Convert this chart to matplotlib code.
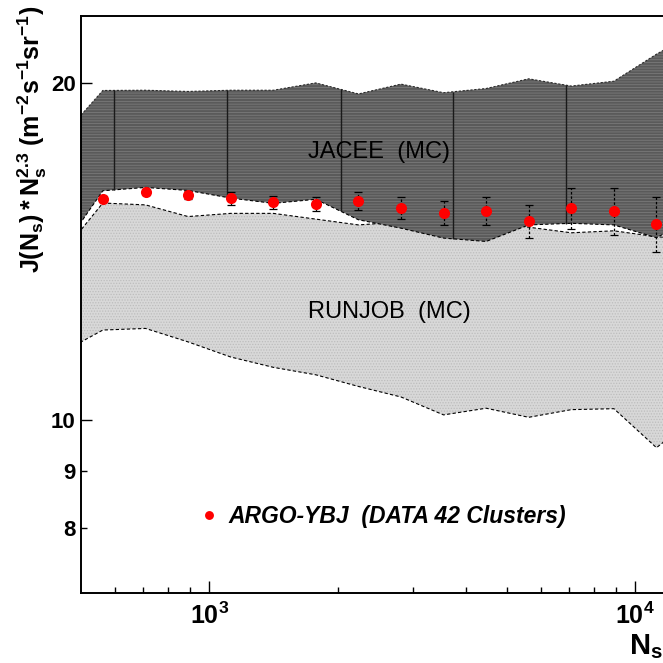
import numpy as np
import matplotlib
matplotlib.use('Agg')
import matplotlib.pyplot as plt
from matplotlib.ticker import FixedLocator, NullFormatter, FixedFormatter

plt.rcParams['font.family'] = ['Liberation Sans', 'DejaVu Sans']
plt.rcParams['mathtext.fontset'] = 'custom'
plt.rcParams['mathtext.rm'] = 'Liberation Sans'
plt.rcParams['mathtext.bf'] = 'Liberation Sans:bold'
plt.rcParams['mathtext.it'] = 'Liberation Sans:italic'
plt.rcParams['mathtext.sf'] = 'Liberation Sans'
plt.rcParams['hatch.linewidth'] = 0.6

# ARGO-YBJ data points
ns_data = [562, 708, 891, 1122, 1413, 1778, 2239, 2818, 3548, 4467, 5623, 7079, 8913, 11220]
flux_data = [15.77, 16.00, 15.89, 15.78, 15.65, 15.60, 15.69, 15.46, 15.31, 15.39, 15.05, 15.47, 15.38, 14.97]
flux_err = [0.10, 0.10, 0.13, 0.20, 0.21, 0.24, 0.29, 0.35, 0.38, 0.45, 0.52, 0.65, 0.74, 0.85]

# MC bands
ns_band = [447, 562, 708, 891, 1122, 1413, 1778, 2239, 2818, 3548, 4467, 5623, 7079, 8913, 11220, 14125]
jacee_hi = [17.86, 19.71, 19.72, 19.67, 19.72, 19.72, 20.02, 19.57, 19.97, 19.62, 19.79, 20.19, 19.89, 20.09, 21.24, 22.32]
jacee_lo = [14.14, 16.03, 16.14, 16.04, 15.79, 15.62, 15.75, 15.10, 14.84, 14.54, 14.44, 14.94, 14.99, 14.94, 14.55, 15.25]
runjob_hi = [14.04, 15.63, 15.57, 15.20, 15.30, 15.30, 15.12, 14.94, 15.03, 15.12, 15.04, 14.87, 14.70, 14.76, 14.58, 14.50]
runjob_lo = [11.47, 12.03, 12.07, 11.74, 11.38, 11.14, 10.97, 10.71, 10.48, 10.10, 10.24, 10.05, 10.21, 10.23, 9.44, 10.12]
jacee_bins = [598, 1101, 2032, 3741, 6887]

x_major = [1e3, 1e4]
x_major_labels = [r'$\mathbf{10^{3}}$', r'$\mathbf{10^{4}}$']
x_minor = [600, 700, 800, 900, 2000, 3000, 4000, 5000, 6000, 7000, 8000, 9000]
y_major = [10, 20]
y_minor = [8, 9]

fig = plt.figure(figsize=(6.63, 6.63), dpi=100)
ax = fig.add_axes([0.1225, 0.1059, 0.8864, 0.8706])
ax.set_xscale('log')
ax.set_yscale('log')

# RUNJOB band
ax.fill_between(ns_band, runjob_lo, runjob_hi, facecolor='#d8d8d8', edgecolor='#bdbdbd',
                hatch='......', linewidth=0, zorder=1)
ax.plot(ns_band, runjob_hi, ls=(0, (3, 2)), color='k', lw=0.8, zorder=1.5)
ax.plot(ns_band, runjob_lo, ls=(0, (3, 2)), color='k', lw=0.8, zorder=1.5)

# JACEE band
ax.fill_between(ns_band, jacee_lo, jacee_hi, facecolor='#5a5a5a', edgecolor='#7a7a7a',
                hatch='------', linewidth=0, zorder=2)
ax.plot(ns_band, jacee_hi, ls=(0, (2, 1.5)), color='#2a2a2a', lw=0.8, zorder=2.5)
ax.plot(ns_band, jacee_lo, ls=(0, (3, 2)), color='k', lw=0.8, zorder=2.5)
lb = np.log10(ns_band)
for bx in jacee_bins:
    ylo = 10 ** np.interp(np.log10(bx), lb, np.log10(jacee_lo))
    yhi = 10 ** np.interp(np.log10(bx), lb, np.log10(jacee_hi))
    ax.vlines(bx, ylo, yhi, color='#1a1a1a', lw=1.0, zorder=2.6)

# data
eb = ax.errorbar(ns_data, flux_data, yerr=flux_err, fmt='none', ecolor='k',
                 elinewidth=0.9, capsize=3, capthick=0.9, zorder=3)
eb[2][0].set_linestyle((0, (2, 1.5)))
ax.plot(ns_data, flux_data, 'o', color='#ff0000', ms=8, mec='none', zorder=4,
        label='ARGO-YBJ  (DATA 42 Clusters)')

ax.set_xlim(500, 12000)
ax.set_ylim(7, 23)

ax.xaxis.set_major_locator(FixedLocator(x_major))
ax.xaxis.set_major_formatter(FixedFormatter(x_major_labels))
ax.xaxis.set_minor_locator(FixedLocator(x_minor))
ax.xaxis.set_minor_formatter(NullFormatter())
ax.yaxis.set_major_locator(FixedLocator(y_major))
ax.yaxis.set_major_formatter(FixedFormatter([str(v) for v in y_major]))
ax.yaxis.set_minor_locator(FixedLocator(y_minor))
ax.yaxis.set_minor_formatter(FixedFormatter([str(v) for v in y_minor]))

ax.tick_params(axis='x', which='major', direction='in', length=9, width=1, pad=7, labelsize=18)
ax.tick_params(axis='x', which='minor', direction='in', length=4.5, width=1)
ax.tick_params(axis='y', which='major', direction='in', length=8, width=1, pad=4, labelsize=16)
ax.tick_params(axis='y', which='minor', direction='in', length=4.5, width=1, pad=4, labelsize=16)
for lab in ax.get_yticklabels(which='both'):
    lab.set_fontweight('bold')
for s in ax.spines.values():
    s.set_linewidth(1.4)

ax.text(0.3856, 0.7633, 'JACEE  (MC)', transform=ax.transAxes, fontsize=17,
        ha='left', va='center', zorder=5)
ax.text(0.3856, 0.4865, 'RUNJOB  (MC)', transform=ax.transAxes, fontsize=17,
        ha='left', va='center', zorder=5)

leg = ax.legend(loc='center left', bbox_to_anchor=(202.25 / 663, (663 - 516.7) / 663),
                bbox_transform=fig.transFigure, frameon=False, numpoints=1,
                handlelength=0.55, handletextpad=0.6, borderpad=0, borderaxespad=0,
                markerscale=0.8, prop={'weight': 'bold', 'style': 'italic', 'size': 16.5})

fig.text(0.0480, 0.7896, r'$\mathbf{J(N_s)*N_s^{2.3}\ (m^{-2}s^{-1}sr^{-1})}$',
         rotation=90, ha='center', va='center', fontsize=18)
fig.text(0.9995, 9 / 663, r'$\mathbf{N_s}$', ha='right', va='baseline', fontsize=21)

fig.savefig('out.png', dpi=100)
